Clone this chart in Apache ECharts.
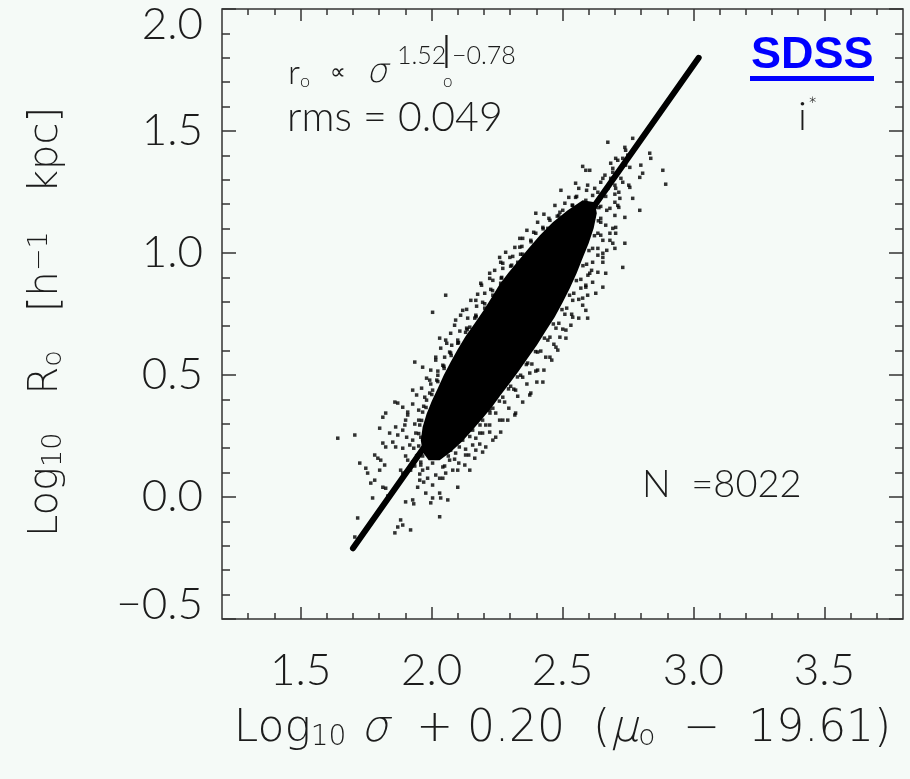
<!DOCTYPE html>
<html><head><meta charset="utf-8">
<script src="https://cdn.jsdelivr.net/npm/echarts@6/dist/echarts.min.js"></script>
<style>html,body{margin:0;padding:0;background:#f5faf7;}#c{width:910px;height:779px;}</style>
</head><body><div id="c"></div>
<script>
// ---- tick values ----
const xTickValues = [1.5, 2.0, 2.5, 3.0, 3.5];
const xMinorValues = [1.3,1.4,1.6,1.7,1.8,1.9,2.1,2.2,2.3,2.4,2.6,2.7,2.8,2.9,3.1,3.2,3.3,3.4,3.6,3.7];
const yTickValues = [-0.5, 0.0, 0.5, 1.0, 1.5, 2.0];

// ---- fitted relation (line) ----
const fitX = [1.70, 3.02];
const fitY = [-0.21, 1.80];

// ---- outline of the saturated (solid black) core of the cloud ----
const coreX = [2.577,2.520,2.463,2.413,2.371,2.333,2.295,2.260,2.230,2.199,2.165,2.130,2.100,2.073,2.047,2.024,2.001,1.981,1.966,1.959,1.966,1.989,
               2.031,2.073,2.115,2.153,2.192,2.230,2.264,2.299,2.333,2.367,2.402,2.436,2.470,2.501,2.528,2.554,2.577,2.600,2.619,2.631,2.623];
const coreY = [1.216,1.175,1.126,1.072,1.019,0.970,0.921,0.872,0.819,0.765,0.712,0.659,0.606,0.553,0.500,0.446,0.393,0.340,0.287,0.233,0.184,0.151,
               0.151,0.184,0.225,0.270,0.319,0.368,0.418,0.467,0.516,0.569,0.622,0.680,0.737,0.798,0.856,0.917,0.979,1.040,1.101,1.163,1.208];

// ---- individual galaxies outside the solid core ----
const dotX = [2.673,2.768,2.833,2.837,2.883,2.894,2.795,2.768,2.730,2.684,
2.577,2.550,2.494,2.741,2.799,2.795,2.753,2.715,2.738,2.692,
2.681,2.654,2.604,2.623,2.662,2.703,2.757,2.738,2.806,2.692,
2.730,2.719,2.700,2.681,2.703,2.700,2.730,2.596,2.665,2.589,
2.398,2.348,2.260,2.272,2.188,2.054,2.004,2.031,2.092,1.936,
1.966,1.860,1.890,1.814,1.802,1.642,1.707,1.726,1.783,1.768,
1.814,1.844,1.718,1.707,1.860,1.890,1.920,2.031,1.928,2.004,
2.031,2.100,2.146,2.169,2.272,2.321,2.375,2.425,2.405,2.490,
2.513,2.577,2.589,2.604,2.654,2.738,2.703,2.757,2.703,2.550,
2.589,2.501,2.452,2.398,2.337,2.299,2.222,2.169,2.119,2.146,
2.054,2.016,1.993,1.928,1.901,1.840,1.863,1.821,1.890,1.955,
2.054,1.993,2.092,2.195,2.245,2.222,2.321,2.375,2.452,2.475,
2.539,2.589,2.627,2.654,1.871,2.062,1.901,1.932,1.882,1.997,
2.035,1.978,1.947,2.031,2.100,1.783,1.775,1.833,1.825,1.749,
1.756,1.802,1.795,1.806,1.825,1.814,1.852,1.871,1.863,1.871,
1.825,1.909,1.890,1.917,1.947,1.928,1.959,2.004,2.043,2.069,
2.130,2.157,2.207,2.184,2.222,2.539,2.486,2.444,2.405,2.367,
2.329,2.302,2.264,2.234,2.203,2.165,2.130,2.100,2.069,2.043,
2.024,2.004,1.981,1.966,1.955,1.959,1.985,2.073,2.119,2.157,
2.195,2.234,2.272,2.302,2.340,2.367,2.405,2.444,2.475,2.509,
2.539,2.570,2.597,2.615,2.635,2.646,2.646,2.627,
2.554,2.509,2.490,2.448,2.425,2.390,2.379,2.345,2.348,2.310,
2.306,2.272,2.268,2.234,2.226,2.203,2.195,2.172,2.169,2.138,
2.134,2.108,2.100,2.077,2.073,2.050,2.047,2.024,2.020,1.997,
1.993,1.974,1.970,1.951,1.951,1.936,1.940,1.928,1.932,1.943,
1.959,1.985,
2.050,2.088,2.104,2.130,2.142,2.169,2.184,2.207,2.222,2.245,
2.260,2.279,2.295,2.314,2.329,2.348,2.364,2.383,2.398,2.417,
2.436,2.452,2.467,2.486,2.501,2.516,2.535,2.543,2.562,2.570,
2.589,2.592,2.611,2.615,2.635,2.635,2.654,2.646,2.665,2.646,
2.669,2.615,2.592,
2.596,2.562,2.524,2.471,2.429,2.405,2.364,2.337,2.318,2.283,
2.264,2.241,2.222,2.191,2.176,2.150,2.134,2.111,2.088,2.073,
2.058,2.035,2.016,1.997,1.981,1.962,1.943,1.928,1.909,1.898,
1.905,1.890,1.901,1.920,1.955,1.985,2.016,
2.081,2.127,2.165,2.195,2.234,2.264,2.291,2.318,2.348,2.379,
2.402,2.429,2.459,2.482,2.513,2.532,2.562,2.577,2.596,2.615,
2.635,2.654,2.669,2.681,2.692,2.700,2.711,2.700,2.673,2.646,
2.723,2.692,
2.537,2.480,2.426,2.380,2.340,2.302,2.266,2.233,2.203,2.170,
2.136,2.103,2.075,2.048,2.024,2.001,1.979,1.962,1.951,1.951,
1.966,
2.064,2.106,2.146,2.185,2.223,2.259,2.294,2.328,2.362,2.397,
2.431,2.465,2.498,2.527,2.553,2.578,2.601,2.622,2.637,2.639,
2.665,2.700,2.684,2.711,2.741,2.749,2.654,2.635,2.715,
1.966,1.936,2.004,1.970,2.043,1.909,1.882];
const dotY = [1.454,1.470,1.409,1.388,1.339,1.282,1.175,1.224,1.388,1.368,
1.355,1.286,1.257,1.421,1.360,1.310,1.278,1.187,1.146,1.040,
1.081,0.999,1.339,1.265,1.319,1.265,1.269,1.433,1.327,1.347,
1.290,1.224,1.208,1.183,1.081,1.019,0.941,0.733,0.917,1.339,
1.163,1.060,0.982,0.958,0.876,0.827,0.757,0.651,0.725,0.553,
0.532,0.389,0.368,0.327,0.282,0.241,0.254,0.139,0.172,0.057,
0.040,0.008,-0.086,-0.164,-0.147,-0.115,-0.135,-0.081,-0.012,-0.004,
0.016,0.040,0.110,0.192,0.315,0.344,0.418,0.471,0.520,0.655,
0.684,0.815,0.860,0.917,0.982,1.040,1.105,1.351,1.388,1.228,
1.216,1.175,1.134,1.081,1.024,0.982,0.917,0.806,0.765,0.696,
0.643,0.573,0.479,0.438,0.315,0.262,0.205,0.131,0.098,0.069,
0.098,0.164,0.180,0.262,0.245,0.356,0.438,0.508,0.573,0.614,
0.737,0.765,0.835,0.860,-0.123,-0.012,-0.020,-0.028,-0.094,-0.024,
-0.004,0.016,0.040,0.077,0.110,0.069,-0.004,0.004,0.036,0.118,
0.098,0.110,0.159,0.151,0.205,0.221,0.225,0.254,0.287,0.385,
0.344,0.348,0.274,0.213,0.172,0.143,0.131,0.139,0.123,0.151,
0.172,0.213,0.205,0.262,0.295,1.195,1.154,1.101,1.040,0.991,
0.962,0.909,0.876,0.827,0.774,0.733,0.675,0.630,0.594,0.540,
0.499,0.438,0.397,0.348,0.295,0.245,0.200,0.192,0.233,0.274,
0.315,0.364,0.409,0.454,0.499,0.549,0.594,0.643,0.692,0.749,
0.806,0.856,0.909,0.962,1.019,1.073,1.126,1.187,
1.232,1.204,1.167,1.142,1.105,1.085,1.052,1.027,0.995,0.986,
0.950,0.937,0.900,0.888,0.851,0.835,0.798,0.782,0.745,0.733,
0.692,0.680,0.643,0.622,0.590,0.573,0.536,0.516,0.479,0.463,
0.426,0.409,0.372,0.356,0.315,0.299,0.262,0.233,0.200,0.168,
0.143,0.118,
0.127,0.155,0.139,0.196,0.172,0.241,0.217,0.295,0.266,0.344,
0.315,0.389,0.364,0.442,0.413,0.491,0.463,0.545,0.516,0.598,
0.573,0.655,0.626,0.712,0.688,0.774,0.749,0.835,0.810,0.892,
0.868,0.954,0.929,1.019,0.991,1.081,1.052,1.142,1.114,1.191,
1.175,1.236,1.257,
1.278,1.265,1.228,1.195,1.159,1.126,1.093,1.060,1.023,1.003,
0.962,0.929,0.896,0.868,0.831,0.806,0.769,0.745,0.704,0.671,
0.630,0.610,0.561,0.520,0.487,0.446,0.418,0.381,0.336,0.295,
0.245,0.200,0.168,0.110,0.094,0.077,0.090,
0.110,0.131,0.159,0.184,0.233,0.266,0.315,0.336,0.389,0.426,
0.471,0.520,0.561,0.602,0.651,0.704,0.733,0.786,0.827,0.880,
0.921,0.962,1.011,1.052,1.101,1.154,1.195,1.241,1.265,1.290,
1.306,1.331,
1.196,1.151,1.099,1.046,0.995,0.946,0.897,0.846,0.792,0.739,
0.686,0.633,0.580,0.527,0.473,0.420,0.367,0.314,0.260,0.209,
0.168,
0.168,0.205,0.248,0.295,0.344,0.393,0.443,0.492,0.543,0.596,
0.651,0.709,0.768,0.827,0.887,0.948,1.010,1.071,1.132,1.186,
1.232,1.278,1.306,1.380,1.360,1.401,1.306,1.249,1.249,
0.110,0.127,0.049,0.061,0.077,0.151,0.110];

const FONT = 'Lato';
const TFONT = "'DejaVu Sans ExtraLight','DejaVu Sans Light',Lato";
const FW = 300;
const INK = '#1c1c1c';
const FRAME = '#333333';

const chart = echarts.init(document.getElementById('c'), null, {renderer: 'canvas'});

function fmtNum(v) {
  const s = Math.abs(v).toFixed(1);
  return v < 0 ? '\u2212' + s : s;
}
const yMin = yTickValues[0], yMax = yTickValues[yTickValues.length - 1];
const baseTick = {show: true, inside: true, lineStyle: {color: FRAME, width: 1.5}};

const option = {
  backgroundColor: '#f5faf7',
  animation: false,
  grid: {left: 222, top: 9, right: 7, bottom: 160, show: true, borderColor: FRAME, borderWidth: 1.5, backgroundColor: 'transparent'},
  xAxis: [
    {type: 'value', min: 1.2, max: 3.8, position: 'bottom',
     axisLine: {show: false, onZero: false}, splitLine: {show: false},
     axisTick: Object.assign({}, baseTick, {length: 12, customValues: xTickValues}),
     axisLabel: {customValues: xTickValues, formatter: fmtNum, margin: 30, fontSize: 44, fontFamily: FONT, fontWeight: FW, color: INK},
     name: 'Log{sub|10} {gk|\u03c3}  + 0.20  ({gk|\u03bc}{sub|o}  \u2212  19.61)',
     nameLocation: 'middle', nameGap: 89,
     nameTextStyle: {fontSize: 44, fontFamily: TFONT, fontWeight: FW, color: INK, verticalAlign: 'top',
       rich: {sub: {fontSize: 28, fontFamily: TFONT, fontWeight: FW, color: INK, verticalAlign: 'bottom', padding: [14, 0, 0, 0]},
              gk: {fontSize: 44, fontFamily: TFONT, fontWeight: FW, fontStyle: 'italic', color: INK}}}
    },
    {type: 'value', min: 1.2, max: 3.8, position: 'bottom',
     axisLine: {show: false, onZero: false}, splitLine: {show: false},
     axisTick: Object.assign({}, baseTick, {length: 6, customValues: xMinorValues}),
     axisLabel: {show: false}},
    {type: 'value', min: 1.2, max: 3.8, position: 'top',
     axisLine: {show: false, onZero: false}, splitLine: {show: false},
     axisTick: Object.assign({}, baseTick, {length: 12, customValues: xTickValues}),
     axisLabel: {show: false}},
    {type: 'value', min: 1.2, max: 3.8, position: 'top',
     axisLine: {show: false, onZero: false}, splitLine: {show: false},
     axisTick: Object.assign({}, baseTick, {length: 6, customValues: xMinorValues}),
     axisLabel: {show: false}}
  ],
  yAxis: [
    {type: 'value', min: yMin, max: yMax, interval: 0.5, position: 'left',
     axisLine: {show: false, onZero: false}, splitLine: {show: false},
     axisTick: Object.assign({}, baseTick, {length: 14}),
     minorTick: {show: true, splitNumber: 5, length: 8, lineStyle: {color: FRAME, width: 1.5}},
     minorSplitLine: {show: false},
     axisLabel: {margin: 19, fontSize: 44, fontFamily: FONT, fontWeight: FW, color: INK,
       formatter: function (v) {
         if (v === yMax) return '{top|' + fmtNum(v) + '}';
         if (v === yMin) return '{bot|' + fmtNum(v) + '}';
         return fmtNum(v);
       },
       rich: {top: {fontSize: 44, fontFamily: FONT, fontWeight: FW, color: INK, padding: [32, 0, 0, 0]},
              bot: {fontSize: 44, fontFamily: FONT, fontWeight: FW, color: INK, padding: [0, 0, 28, 0]}}},
     name: 'Log{sub|10}   R{sub|o}   [h{sup|\u22121}   kpc]',
     nameLocation: 'middle', nameGap: 155, nameRotate: 90,
     nameTextStyle: {fontSize: 40, fontFamily: TFONT, fontWeight: FW, color: INK, padding: [0, 16, 0, 0],
       rich: {sub: {fontSize: 27, fontFamily: TFONT, fontWeight: FW, color: INK, verticalAlign: 'bottom', padding: [12, 0, 0, 0]},
              sup: {fontSize: 27, fontFamily: TFONT, fontWeight: FW, color: INK, verticalAlign: 'top', padding: [0, 0, 14, 0]}}}
    },
    {type: 'value', min: yMin, max: yMax, interval: 0.5, position: 'right',
     axisLine: {show: false, onZero: false}, splitLine: {show: false},
     axisTick: Object.assign({}, baseTick, {length: 14}),
     minorTick: {show: true, splitNumber: 5, length: 8, lineStyle: {color: FRAME, width: 1.5}},
     minorSplitLine: {show: false},
     axisLabel: {show: false}}
  ],
  series: [
    {type: 'custom', name: 'core', xAxisIndex: 0, yAxisIndex: 0, z: 2,
     data: [[coreX[0], coreY[0]]],
     renderItem: function (params, api) {
       const pts = coreX.map(function (x, i) { return api.coord([x, coreY[i]]); });
       return {type: 'polygon', shape: {points: pts}, style: {fill: '#000'}};
     }},
    {type: 'scatter', name: 'galaxies', xAxisIndex: 0, yAxisIndex: 0, z: 3,
     symbol: 'rect', symbolSize: 3.5, itemStyle: {color: '#000'},
     data: dotX.map(function (x, i) { return [x, dotY[i]]; })},
    {type: 'line', name: 'fit', xAxisIndex: 0, yAxisIndex: 0, z: 4,
     showSymbol: false, symbol: 'none',
     lineStyle: {color: '#000', width: 6, cap: 'round'},
     data: fitX.map(function (x, i) { return [x, fitY[i]]; })}
  ],
  graphic: [
    {type: 'text', left: 288, top: 56, z: 10,
     style: {text: '{m|r}{s|o}', fill: INK,
       rich: {m: {fontSize: 34, fontFamily: FONT, fontWeight: FW, fill: INK},
              s: {fontSize: 18, fontFamily: FONT, fontWeight: FW, fill: INK, verticalAlign: 'bottom', padding: [14, 0, 0, 0]}}}},
    {type: 'text', left: 330, top: 62, z: 10,
     style: {text: '\u221d', fontSize: 22, fontFamily: "'DejaVu Sans'", fontWeight: 200, fill: INK}},
    {type: 'text', left: 366, top: 56, z: 10,
     style: {text: '\u03c3', fontSize: 34, fontFamily: TFONT, fontWeight: FW, fontStyle: 'italic', fill: INK}},
    {type: 'text', left: 397, top: 43, z: 10,
     style: {text: '1.52', fontSize: 25, fontFamily: FONT, fontWeight: FW, fill: INK}},
    {type: 'text', left: 440, top: 35, z: 10,
     style: {text: 'I', fontSize: 44, fontFamily: TFONT, fontWeight: FW, fill: INK}},
    {type: 'text', left: 443, top: 73, z: 10,
     style: {text: 'o', fontSize: 17, fontFamily: FONT, fontWeight: FW, fill: INK}},
    {type: 'text', left: 452, top: 43, z: 10,
     style: {text: '\u22120.78', fontSize: 25, fontFamily: FONT, fontWeight: FW, fill: INK}},
    {type: 'text', left: 287, top: 97, z: 10,
     style: {text: 'rms = 0.049', fontSize: 41, fontFamily: FONT, fontWeight: FW, fill: INK}},
    {type: 'text', left: 642, top: 466, z: 10,
     style: {text: 'N  =8022', fontSize: 38, fontFamily: FONT, fontWeight: FW, fill: INK}},
    {type: 'text', left: 798, top: 97, z: 10,
     style: {text: 'i', fontSize: 40, fontFamily: FONT, fontWeight: FW, fill: INK}},
    {type: 'text', left: 808, top: 95, z: 10,
     style: {text: '*', fontSize: 22, fontFamily: FONT, fontWeight: FW, fill: INK}},
    {type: 'text', left: 751, top: 33, z: 10,
     style: {text: 'SDSS', fontSize: 45, fontFamily: 'Liberation Sans', fontWeight: 'bold', fill: '#0000ff'}},
    {type: 'rect', left: 750, top: 76, z: 10, shape: {width: 124, height: 5}, style: {fill: '#0000ff'}}
  ]
};
chart.setOption(option);
</script>
</body></html>
